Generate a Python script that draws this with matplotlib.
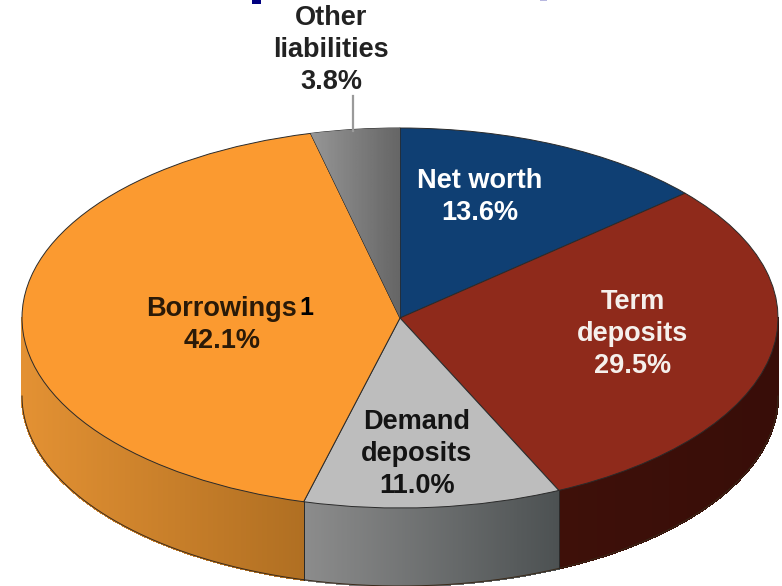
import numpy as np
import matplotlib
matplotlib.use("Agg")
import matplotlib.pyplot as plt
from matplotlib.collections import PolyCollection
from matplotlib.colors import LinearSegmentedColormap
from matplotlib.patches import Rectangle

plt.rcParams['font.family'] = ['Liberation Sans', 'DejaVu Sans']

categories = ["Net worth", "Term\ndeposits", "Demand\ndeposits", "Borrowings", "Other\nliabilities"]
values = [13.6, 29.5, 11.0, 42.1, 3.8]
top_colors = ["#0F3F73", "#8F2A1B", "#BDBDBD", "#FB9A30", "#858585"]
wall_left = ["#0A2A50", "#3E1009", "#8C8C8C", "#E39133", "#6E6E6E"]
wall_right = ["#0A2A50", "#380D08", "#4C5152", "#B06F22", "#6E6E6E"]
text_colors = ["white", "#F5F0EC", "#141414", "#2A1A08", "#222222"]

W, H = 782, 586
CX, CY, RX, RY, DEPTH = 400, 318, 378, 190, 78

fig = plt.figure(figsize=(W / 100, H / 100), dpi=100)
ax = fig.add_axes([0, 0, 1, 1])


def px(x, y):
    return (x - CX) / RX, (CY - y) / RY


wedges, _ = ax.pie(values, colors=top_colors, startangle=90, counterclock=False,
                   radius=1, wedgeprops=dict(edgecolor="#2A2A2A", linewidth=0.7, zorder=3))
ax.set_aspect('auto')
ax.set_xlim(-CX / RX, (W - CX) / RX)
ax.set_ylim((CY - H) / RY, CY / RY)
ax.axis('off')

# side wall of the disc, derived from the same values
d = DEPTH / RY
cum = np.concatenate([[0], np.cumsum(values)]) / sum(values) * 360
for i in range(len(values)):
    a0, a1 = max(cum[i], 90), min(cum[i + 1], 270)
    if a1 <= a0:
        continue
    t = np.radians(np.linspace(a0, a1, 240))
    x, y = np.sin(t), np.cos(t)
    quads = [[(x[k], y[k]), (x[k + 1], y[k + 1]), (x[k + 1], y[k + 1] - d), (x[k], y[k] - d)]
             for k in range(len(t) - 1)]
    cmap = LinearSegmentedColormap.from_list("w", [wall_left[i], wall_right[i]])
    # gradient runs left to right on screen
    frac = (x[:-1] - x.min()) / (x.max() - x.min())
    cols = cmap(frac)
    ax.add_collection(PolyCollection(quads, facecolors=cols, edgecolors=cols, linewidths=1.0,
                                     antialiased=False, zorder=1))
    ax.plot(x, y - d, color="#3A2A1A", lw=0.7, zorder=2)
    for ang, xe, ye in ((a0, x[0], y[0]), (a1, x[-1], y[-1])):
        if ang not in (90, 270):
            ax.plot([xe, xe], [ye, ye - d], color="#2A2A2A", lw=0.7, zorder=2)

# gradient on the small grey wedge
grad = np.linspace(0.60, 0.40, 64).reshape(1, -1)
xl, yl = px(305, 0)[0], px(0, 125)[1]
xr, yr = px(400, 0)[0], px(0, 320)[1]
im = ax.imshow(grad, cmap="gray", vmin=0, vmax=1, extent=[xl, xr, yr, yl], aspect='auto', zorder=3.1)
im.set_clip_path(wedges[4])
ax.set_xlim(-CX / RX, (W - CX) / RX)
ax.set_ylim((CY - H) / RY, CY / RY)

# leader line for the small slice
ax.plot(*zip(px(353, 96), px(353, 131)), color="#9A9A9A", lw=1.6, zorder=4)

# labels
label_xy = [(480, 197), (633, 334), (417, 454), (222, 325), (331, 50)]
for name, v, (lx, ly), c in zip(categories, values, label_xy, text_colors):
    ax.text(*px(lx, ly), f"{name}\n{v:.1f}%", ha='center', va='center', color=c,
            fontsize=19.5, fontweight='bold', linespacing=1.3, zorder=5)
ax.text(*px(306, 308), "1", ha='center', va='center', color="black",
        fontsize=18, fontweight='bold', zorder=5)

# remnants of the cropped title at the top edge
ax.add_patch(Rectangle(px(252, 4), 9 / RX, 4 / RY, facecolor="#000080", edgecolor='none', zorder=5))
ax.add_patch(Rectangle(px(540, 1), 7 / RX, 1 / RY, facecolor="#B8B8E0", edgecolor='none', zorder=5))

fig.savefig("out.png", dpi=100)
